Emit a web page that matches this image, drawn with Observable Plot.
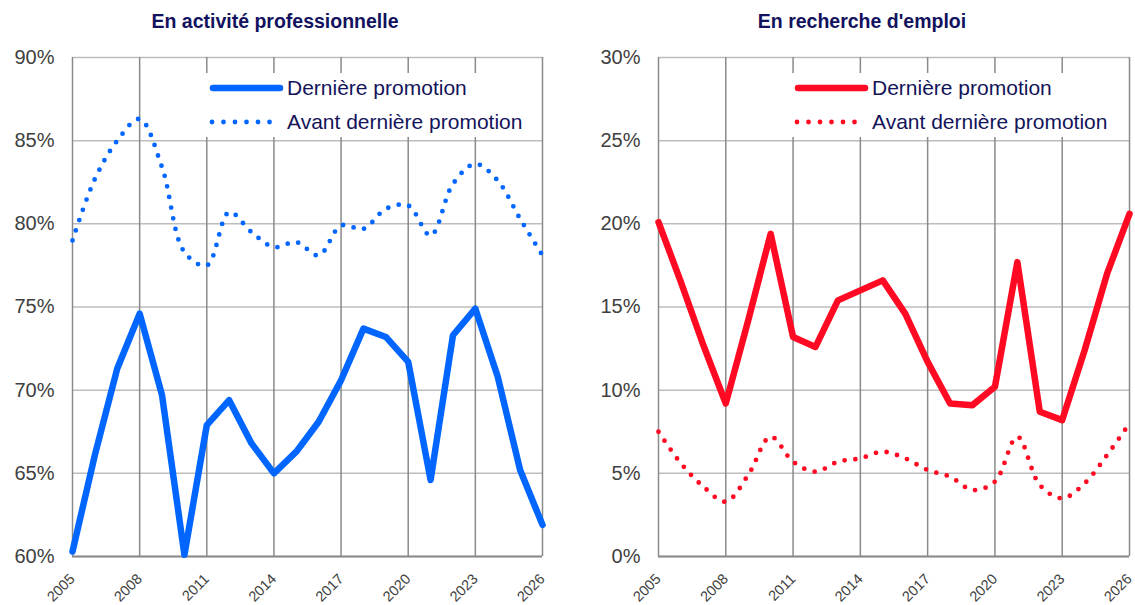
<!DOCTYPE html>
<html><head><meta charset="utf-8">
<script src="https://cdn.jsdelivr.net/npm/d3@7"></script>
<script src="https://cdn.jsdelivr.net/npm/@observablehq/plot@0.6"></script>
<style>
body{margin:0;background:#fff;font-family:"Liberation Sans",Arial,sans-serif}
#wrap{position:relative;width:1135px;height:605px;overflow:hidden}
.panel{position:absolute;top:0}
.title{position:absolute;top:11px;line-height:20px;font-weight:bold;color:#12125e;font-size:19.5px;white-space:nowrap;transform:translateX(-50%)}
.legend{position:absolute;background:#fff;width:335px;height:64px;top:73px}
.legend svg{position:absolute;left:0;top:0}
.legend span{position:absolute;font-size:21px;line-height:24px;color:#14145a;white-space:nowrap}
</style>
</head><body>
<div id="wrap"></div>
<script>
// ---- data ----
const years = [2005,2006,2007,2008,2009,2010,2011,2012,2013,2014,2015,2016,2017,2018,2019,2020,2021,2022,2023,2024,2025,2026];
const xTicks = [2005,2008,2011,2014,2017,2020,2023,2026];
const titles = ["En activité professionnelle", "En recherche d'emploi"];
const seriesNames = ["Dernière promotion", "Avant dernière promotion"];
// En activité professionnelle (%)
const activiteDerniere = [60.3,66.1,71.3,74.6,69.7,60.1,67.9,69.4,66.8,65.0,66.3,68.1,70.6,73.7,73.2,71.7,64.6,73.3,74.9,70.8,65.2,61.9];
const activiteAvant = [79.0,82.7,85.0,86.3,83.4,78.3,77.5,80.7,79.5,78.6,78.9,78.1,79.9,79.7,80.9,81.1,79.3,82.4,83.6,82.6,80.3,78.1];
// En recherche d'emploi (%)
const rechercheDerniere = [20.1,16.5,12.7,9.2,14.2,19.4,13.2,12.6,15.4,16.0,16.6,14.6,11.7,9.2,9.1,10.2,17.7,8.7,8.2,12.4,17.0,20.6];
const rechercheAvant = [7.5,5.6,4.2,3.3,4.9,7.2,5.7,5.1,5.7,5.9,6.3,5.9,5.2,4.8,4.0,4.5,7.2,4.3,3.5,4.4,6.1,8.0];
const yTicksActivite = [60,65,70,75,80,85,90];
const yTicksRecherche = [0,5,10,15,20,25,30];
const blue = "#0066ff", red = "#ff0a22";

function panel(o){
  const dLast = years.map((y,i)=>({year:y, v:o.last[i]}));
  const dPrev = years.map((y,i)=>({year:y, v:o.prev[i]}));
  const domain = [o.yTicks[0], o.yTicks[o.yTicks.length-1]];
  return Plot.plot({
    width: o.width, height: 605,
    marginTop: 57, marginBottom: 49, marginLeft: o.marginLeft, marginRight: o.marginRight,
    style: {fontFamily: "Liberation Sans, Arial, sans-serif", background: "transparent", overflow: "visible"},
    x: {domain: [2005, 2026]},
    y: {domain},
    marks: [
      Plot.gridY(o.yTicks, {stroke: "#bdbdbd", strokeOpacity: 1, strokeWidth: 1.5}),
      Plot.gridX(xTicks, {stroke: "#8a8a8a", strokeOpacity: 1, strokeWidth: 1.5}),
      Plot.ruleY([domain[0]], {stroke: "#8a8a8a", strokeWidth: 2}),
      Plot.axisY(o.yTicks, {tickFormat: d => d + "%", tickSize: 0, tickPadding: 18, fontSize: 20, color: "#404040", label: null}),
      Plot.axisX(xTicks, {tickFormat: d => String(d), tickRotate: -45, tickSize: 0, tickPadding: 20, fontSize: 14.5, color: "#404040", label: null}),
      Plot.line(dPrev, {x: "year", y: "v", stroke: o.color, strokeWidth: 4.8, strokeDasharray: "0 10.8", strokeLinecap: "round", curve: "catmull-rom"}),
      Plot.line(dLast, {x: "year", y: "v", stroke: o.color, strokeWidth: 6.5, strokeLinejoin: "round", strokeLinecap: "round"})
    ]
  });
}

const wrap = document.getElementById("wrap");
const cfg = [
  {left: 0, width: 580, marginLeft: 72, marginRight: 38, yTicks: yTicksActivite, last: activiteDerniere, prev: activiteAvant, color: blue, title: titles[0], titleX: 275, legendX: 200},
  {left: 580, width: 555, marginLeft: 78, marginRight: 6, yTicks: yTicksRecherche, last: rechercheDerniere, prev: rechercheAvant, color: red, title: titles[1], titleX: 862, legendX: 785}
];
cfg.forEach(o => {
  const p = document.createElement("div");
  p.className = "panel"; p.style.left = o.left + "px";
  p.appendChild(panel(o));
  wrap.appendChild(p);
  const t = document.createElement("div");
  t.className = "title"; t.style.left = o.titleX + "px"; t.textContent = o.title;
  wrap.appendChild(t);
  const lg = document.createElement("div");
  lg.className = "legend"; lg.style.left = o.legendX + "px";
  lg.innerHTML = `<svg width="335" height="64">
    <line x1="13" x2="80" y1="15" y2="15" stroke="${o.color}" stroke-width="6.5" stroke-linecap="round"/>
    <line x1="12" x2="78" y1="49" y2="49" stroke="${o.color}" stroke-width="4.8" stroke-dasharray="0 11.5" stroke-linecap="round"/>
  </svg>
  <span style="left:87px;top:3px">${seriesNames[0]}</span>
  <span style="left:87px;top:37px">${seriesNames[1]}</span>`;
  wrap.appendChild(lg);
});
</script>
</body></html>
